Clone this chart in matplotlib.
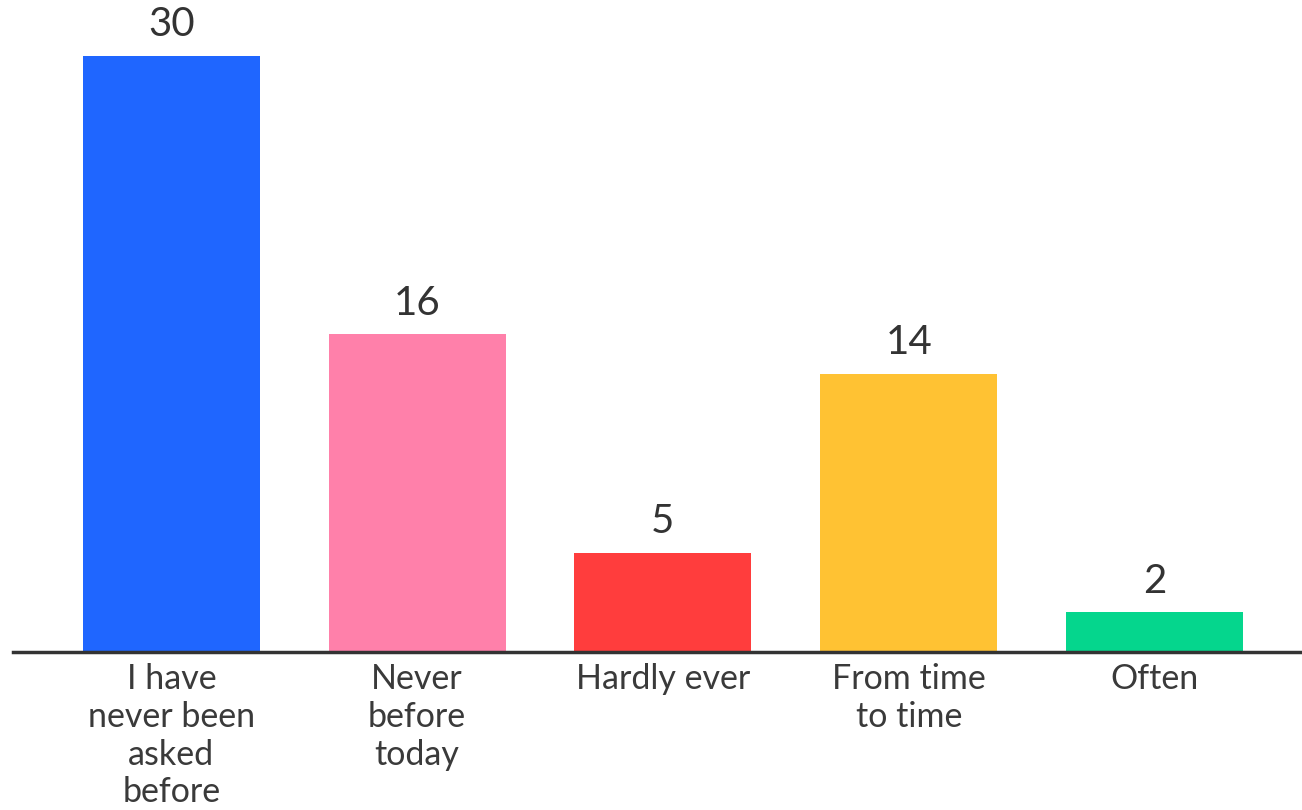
import matplotlib
matplotlib.use("Agg")
import matplotlib.pyplot as plt

categories = ["I have\nnever been\nasked\nbefore", "Never\nbefore\ntoday", "Hardly ever", "From time\nto time", "Often"]
values = [30, 16, 5, 14, 2]
colors = ["#1F66FF", "#FF80AA", "#FF3D3D", "#FFC233", "#05D68D"]

plt.rcParams['font.family'] = ['Lato', 'DejaVu Sans']

fig = plt.figure(figsize=(13.02, 8.10), dpi=100)
ax = fig.add_axes([0.01, (810 - 652) / 810, 1289 / 1302, 652 / 810])
x = list(range(len(categories)))
ax.bar(x, values, width=0.72, color=colors, zorder=2)
ax.set_xlim(-0.644, 4.6)
ax.set_ylim(0, 652 / 19.87)

for xi, v in zip(x, values):
    ax.annotate(str(v), (xi, v), xytext=(0, 9), textcoords="offset points",
                ha="center", va="bottom", fontsize=29, color="#333333")

for xi, lab in zip(x, categories):
    ax.annotate(lab, (xi, 0), xytext=(0, -8), textcoords="offset points",
                ha="center", va="top", fontsize=24.5, color="#3a3a3a", linespacing=1.22)

for s in ["top", "right", "left"]:
    ax.spines[s].set_visible(False)
ax.spines["bottom"].set_color("#333333")
ax.spines["bottom"].set_linewidth(2.5)
ax.spines["bottom"].set_zorder(3)
ax.set_xticks([])
ax.set_yticks([])
ax.patch.set_alpha(0)

fig.savefig("out.png", dpi=100, facecolor="white")
